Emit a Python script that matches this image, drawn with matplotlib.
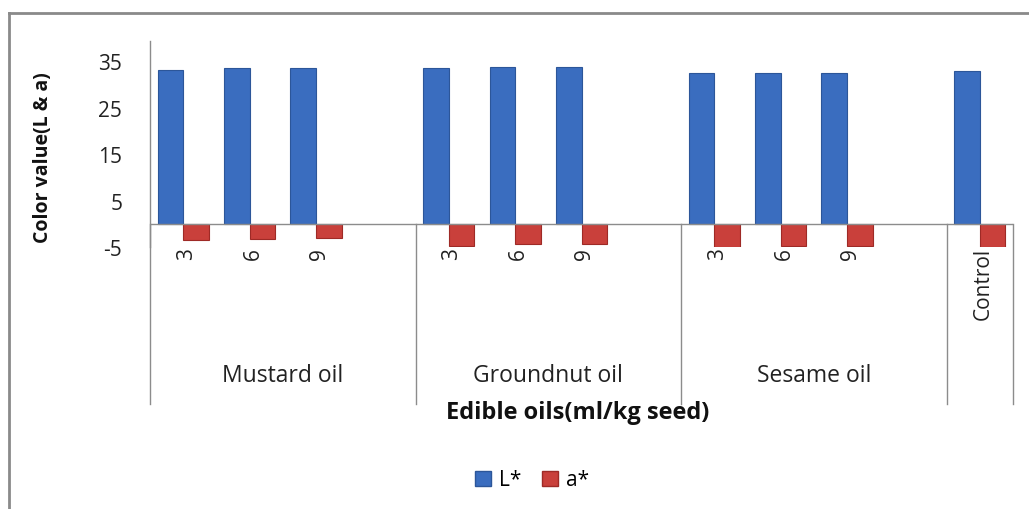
import matplotlib
matplotlib.use("Agg")
import matplotlib.pyplot as plt
from matplotlib.patches import Patch
from matplotlib.lines import Line2D
from matplotlib.transforms import blended_transform_factory

# ---- data ----
oils = ['Mustard oil', 'Groundnut oil', 'Sesame oil']
doses = ['3', '6', '9']
L_star = [33.1, 33.5, 33.5, 33.5, 33.7, 33.7, 32.4, 32.4, 32.5]
a_star = [-3.4, -3.2, -3.1, -4.7, -4.3, -4.3, -5.0, -4.8, -4.8]
control_label = 'Control'
L_control = 32.8
a_control = -5.0
yticks = [-5, 5, 15, 25, 35]

FONT = 'Open Sans'
plt.rcParams['font.family'] = [FONT, 'DejaVu Sans']
plt.rcParams['axes.unicode_minus'] = False

W, H = 1029, 510
fig = plt.figure(figsize=(W / 100, H / 100), dpi=100)

def fx(px):
    return px / W

def fy(py):
    return 1 - py / H

left_px, right_px, top_px, bot_px = 150, 1013, 42, 248
ax = fig.add_axes([fx(left_px), fy(bot_px), fx(right_px) - fx(left_px), fy(top_px) - fy(bot_px)])

BLUE = '#3a6dbf'
RED = '#c9403b'
GRAY = '#8c8c8c'
TXT = '#222222'

n_cat = len(oils) * 4 + 1
positions = []
labels = []
Lvals = []
avals = []
for g, oil in enumerate(oils):
    for d, dose in enumerate(doses):
        positions.append(g * 4 + d + 0.5)
        labels.append(dose)
        Lvals.append(L_star[g * len(doses) + d])
        avals.append(a_star[g * len(doses) + d])
positions.append(len(oils) * 4 + 0.5)
labels.append(control_label)
Lvals.append(L_control)
avals.append(a_control)

bw = 0.385
ax.bar([p - bw / 2 for p in positions], Lvals, width=bw, color=BLUE,
       edgecolor='#2c5699', linewidth=0.8, zorder=3)
ax.bar([p + bw / 2 for p in positions], avals, width=bw, color=RED,
       edgecolor='#9e2a26', linewidth=0.8, zorder=3)

ax.set_xlim(0, n_cat)
ax.set_ylim(-5, 39.35)
ax.set_yticks(yticks)
ax.set_xticks([])
ax.tick_params(axis='y', length=0, pad=20, labelsize=15, labelcolor=TXT)
for s in ['top', 'right', 'bottom']:
    ax.spines[s].set_visible(False)
ax.spines['left'].set_color(GRAY)
ax.spines['left'].set_linewidth(1.0)
ax.axhline(0, color=GRAY, linewidth=1.0, zorder=4)

# category separators
tr = blended_transform_factory(ax.transData, fig.transFigure)
for xb in [0, 4, 8, 12, 13]:
    ax.add_line(Line2D([xb, xb], [fy(225), fy(405)], transform=tr,
                       color=GRAY, linewidth=1.0, clip_on=False))

# category labels
for p, lab in zip(positions, labels):
    ax.text(p + 0.05, fy(248), lab, transform=tr, rotation=90, ha='center', va='top',
            fontsize=15, color=TXT)

# group labels
for g, oil in enumerate(oils):
    ax.text(g * 4 + 2, fy(376), oil, transform=tr, ha='center', va='center',
            fontsize=16.5, color=TXT)

fig.text(fx(578), fy(413), 'Edible oils(ml/kg seed)', ha='center', va='center',
         fontsize=17, fontweight='bold', color='#111111')
fig.text(fx(43), fy(158), 'Color value(L & a)', ha='center', va='center',
         rotation=90, fontsize=14, fontweight='bold', color='#111111')

handles = [Patch(facecolor=BLUE, edgecolor='#2c5699', label='L*'),
           Patch(facecolor=RED, edgecolor='#9e2a26', label='a*')]
fig.legend(handles=handles, loc='center', bbox_to_anchor=(fx(532), fy(481)),
           ncol=2, frameon=False, fontsize=15, handlelength=0.75, handleheight=0.75,
           handletextpad=0.4, columnspacing=1.0)

# chart frame (left and top edges visible)
fig.add_artist(Line2D([fx(9), fx(9)], [fy(14), 0], transform=fig.transFigure,
                      color='#8a8a8a', linewidth=2))
fig.add_artist(Line2D([fx(9), 1], [fy(14), fy(14)], transform=fig.transFigure,
                      color='#8a8a8a', linewidth=2))

fig.savefig('out.png', dpi=100)
